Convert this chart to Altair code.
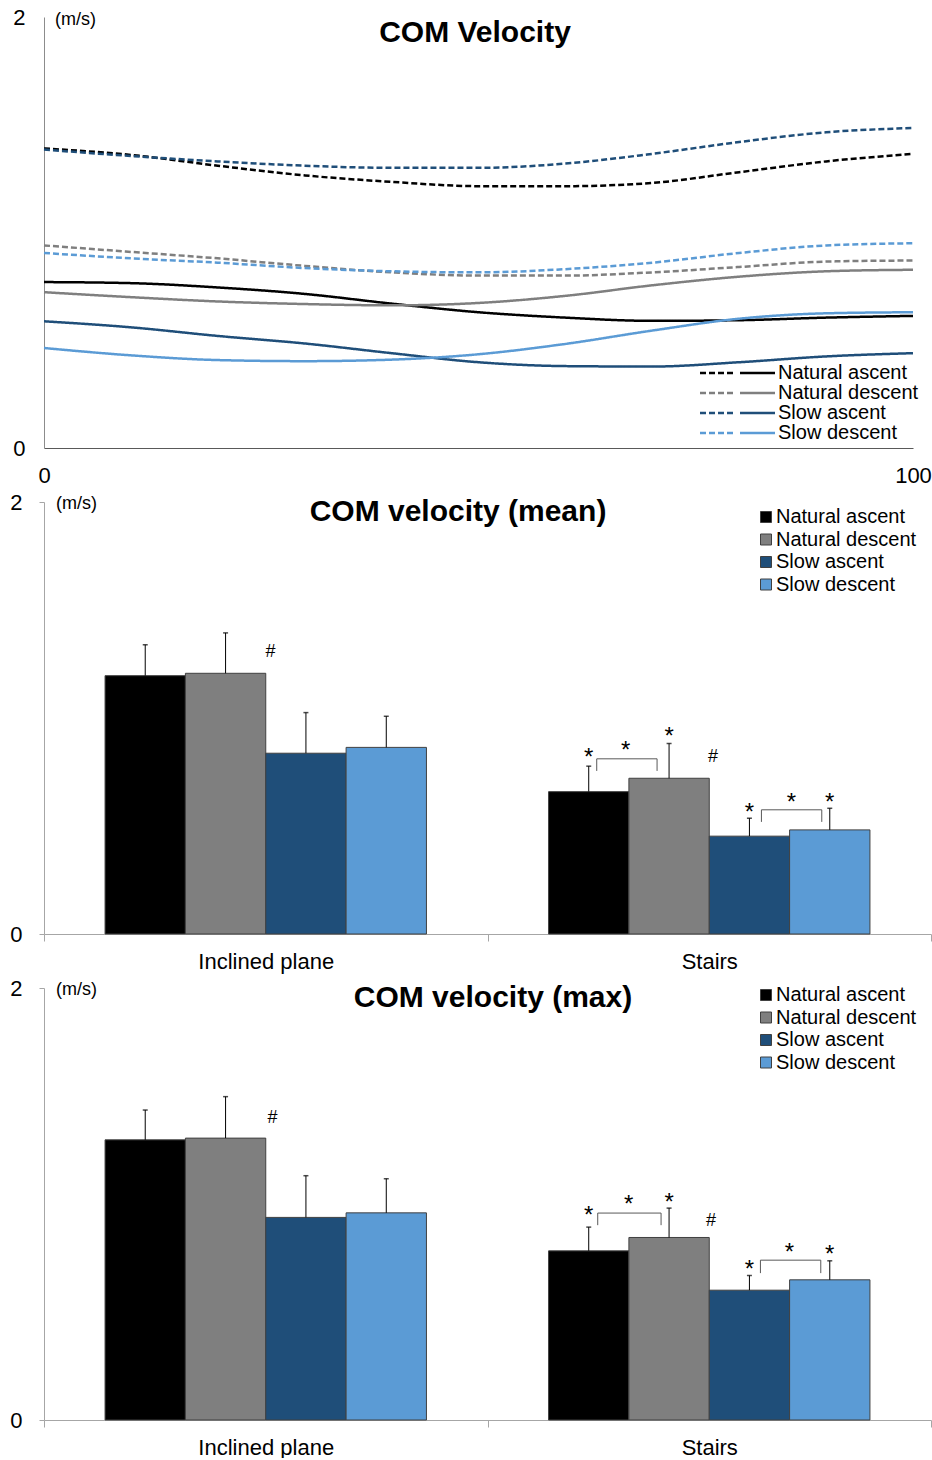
import altair as alt
import pandas as pd

FONT = "Liberation Sans"

# ---------------- data ----------------
series = ["Natural ascent", "Natural descent", "Slow ascent", "Slow descent"]
colors = ["#000000", "#7f7f7f", "#1f4e79", "#5b9bd5"]

# top panel: time-normalised COM velocity (% of cycle)
pct = [0, 10, 20, 30, 40, 50, 60, 70, 80, 90, 100]
# dashed curves
nat_asc_dashed = [1.39, 1.36, 1.31, 1.265, 1.235, 1.215, 1.215, 1.23, 1.28, 1.33, 1.365]
nat_desc_dashed = [0.94, 0.91, 0.88, 0.845, 0.815, 0.80, 0.80, 0.815, 0.84, 0.865, 0.87]
slow_asc_dashed = [1.385, 1.355, 1.33, 1.31, 1.30, 1.30, 1.32, 1.365, 1.42, 1.465, 1.485]
slow_desc_dashed = [0.905, 0.88, 0.86, 0.835, 0.82, 0.815, 0.83, 0.86, 0.905, 0.94, 0.95]
# solid curves
nat_asc_solid = [0.77, 0.765, 0.745, 0.715, 0.67, 0.63, 0.605, 0.59, 0.593, 0.605, 0.613]
nat_desc_solid = [0.723, 0.70, 0.68, 0.668, 0.662, 0.673, 0.706, 0.755, 0.795, 0.82, 0.827]
slow_asc_solid = [0.588, 0.56, 0.52, 0.485, 0.44, 0.398, 0.38, 0.378, 0.398, 0.425, 0.44]
slow_desc_solid = [0.464, 0.43, 0.408, 0.403, 0.41, 0.435, 0.483, 0.545, 0.60, 0.625, 0.63]

# bar panels
groups = ["Inclined plane", "Stairs"]
mean_incline = [1.196, 1.207, 0.837, 0.864]
mean_incline_sd = [0.143, 0.187, 0.188, 0.144]
mean_stairs = [0.659, 0.721, 0.453, 0.482]
mean_stairs_sd = [0.118, 0.161, 0.083, 0.100]
max_incline = [1.297, 1.305, 0.938, 0.959]
max_incline_sd = [0.138, 0.192, 0.193, 0.158]
max_stairs = [0.783, 0.845, 0.601, 0.649]
max_stairs_sd = [0.110, 0.136, 0.068, 0.088]

# annotations: group index, anchor bar index, pixel shift, level
mean_hash = {"g": [0, 1], "a": [1, 1], "s": [45, 44], "y": [1.311, 0.825]}
mean_star = {"g": [1, 1, 1, 1, 1, 1], "a": [0, 0, 1, 2, 2, 3], "s": [0, 37, 0, 0, 42, 0],
             "y": [0.848, 0.880, 0.945, 0.593, 0.640, 0.640]}
mean_brk = {"g": [1, 1], "la": [0, 2], "ls": [8, 12], "ra": [1, 3], "rs": [-12, -8],
            "top": [0.811, 0.575], "bot": [0.755, 0.519]}
max_hash = {"g": [0, 1], "a": [1, 1], "s": [47, 42], "y": [1.403, 0.925]}
max_star = {"g": [1, 1, 1, 1, 1, 1], "a": [0, 0, 1, 2, 2, 3], "s": [0, 40, 0, 0, 40, 0],
            "y": [0.976, 1.027, 1.036, 0.726, 0.804, 0.796]}
max_brk = {"g": [1, 1], "la": [0, 2], "ls": [9, 11], "ra": [1, 3], "rs": [-8, -9],
           "top": [0.958, 0.740], "bot": [0.902, 0.680]}

# ---------------- layout constants ----------------
W = 887
H = 432
STEP = W / 2
PAD_OUT = 0.76
AXIS_GRAY = "#a6a6a6"


def text_layer(txt, x, y, size, bold=False, align="center", baseline="middle"):
    return alt.Chart(pd.DataFrame({"t": [txt]})).mark_text(
        text=txt, fontSize=size, fontWeight="bold" if bold else "normal",
        align=align, baseline=baseline, font=FONT, color="black"
    ).encode(x=alt.value(x), y=alt.value(y))


# ---------------- top panel ----------------
rows = []
for name, style, vals in [
    (series[0], "dashed", nat_asc_dashed), (series[1], "dashed", nat_desc_dashed),
    (series[2], "dashed", slow_asc_dashed), (series[3], "dashed", slow_desc_dashed),
    (series[0], "solid", nat_asc_solid), (series[1], "solid", nat_desc_solid),
    (series[2], "solid", slow_asc_solid), (series[3], "solid", slow_desc_solid),
]:
    for p, v in zip(pct, vals):
        rows.append({"pct": p, "v": v, "series": name, "style": style})
df_top = pd.DataFrame(rows)

TW, TH = 869, 431
lines = alt.Chart(df_top).mark_line(strokeWidth=2.5, interpolate="monotone").encode(
    x=alt.X("pct:Q", scale=alt.Scale(domain=[0, 100], nice=False),
            axis=alt.Axis(values=[0, 100], title=None, grid=False, ticks=False, tickSize=0,
                          labelFontSize=22, labelFont=FONT, labelColor="black",
                          labelPadding=17, domainColor="#595959", labelFlush=False)),
    y=alt.Y("v:Q", scale=alt.Scale(domain=[0, 2], nice=False),
            axis=alt.Axis(values=[0, 1, 2], format="d", title=None, grid=False, ticks=False,
                          tickSize=0, labelFontSize=22, labelFont=FONT, labelColor="black",
                          labelPadding=19, domainColor="#8c8c8c")),
    color=alt.Color("series:N", scale=alt.Scale(domain=series, range=colors), legend=None),
    strokeDash=alt.StrokeDash("style:N", scale=alt.Scale(domain=["dashed", "solid"],
                                                          range=[[6, 3], [1, 0]]), legend=None),
    detail="style:N",
)

top_layers = [lines]
for i, name in enumerate(series):
    yy = 356 + i * 20
    leg = alt.Chart(pd.DataFrame({"label": [name]}))
    top_layers.append(leg.mark_rule(color=colors[i], strokeWidth=2.5, strokeDash=[6, 3]).encode(
        x=alt.value(656), x2=alt.value(690), y=alt.value(yy)))
    top_layers.append(leg.mark_rule(color=colors[i], strokeWidth=2.5).encode(
        x=alt.value(696), x2=alt.value(731), y=alt.value(yy)))
    top_layers.append(leg.mark_text(align="left", baseline="middle", fontSize=20, font=FONT,
                                    color="black").encode(x=alt.value(734), y=alt.value(yy),
                                                          text="label:N"))
top_layers.append(text_layer("COM Velocity", 431, 16, 30, bold=True))
top_layers.append(text_layer("(m/s)", 11, 3, 18, align="left"))
top = alt.layer(*top_layers).properties(width=TW, height=TH)


# ---------------- bar panels ----------------
def center_u(g, a, shift):
    return g + (PAD_OUT + a + 0.5) / (4 + 2 * PAD_OUT) + shift / STEP


def bar_panel(title, title_x, title_y, inc, inc_sd, sta, sta_sd, hsh, star, brk, leg_y):
    recs = []
    for g, vals, sds in [(groups[0], inc, inc_sd), (groups[1], sta, sta_sd)]:
        for s, v, sd in zip(series, vals, sds):
            recs.append({"group": g, "series": s, "value": v, "hi": v + sd})
    df = pd.DataFrame(recs)
    base = alt.Chart(df)
    xenc = alt.X("group:N", sort=groups,
                 scale=alt.Scale(domain=groups, paddingInner=0, paddingOuter=0),
                 axis=alt.Axis(title=None, labelAngle=0, labelFontSize=22, labelFont=FONT,
                               labelColor="black", tickBand="extent", tickSize=7,
                               tickColor=AXIS_GRAY, domainColor=AXIS_GRAY, labelPadding=10,
                               grid=False))
    xo = alt.XOffset("series:N", sort=series,
                     scale=alt.Scale(domain=series, paddingInner=0, paddingOuter=PAD_OUT))
    yenc = alt.Y("value:Q", scale=alt.Scale(domain=[0, 2], nice=False),
                 axis=alt.Axis(values=[0, 1, 2], format="d", title=None, grid=False,
                               tickSize=5, tickColor=AXIS_GRAY, domainColor=AXIS_GRAY,
                               labelFontSize=22, labelFont=FONT, labelColor="black",
                               labelPadding=17))
    bars = base.mark_bar(stroke="#404040", strokeWidth=1).encode(
        x=xenc, xOffset=xo, y=yenc,
        color=alt.Color("series:N", sort=series, scale=alt.Scale(domain=series, range=colors),
                        legend=alt.Legend(orient="none", legendX=712, legendY=leg_y, title=None,
                                          symbolType="square", symbolSize=121,
                                          symbolStrokeColor="#404040", symbolStrokeWidth=1,
                                          labelFontSize=20, labelFont=FONT, labelColor="black",
                                          rowPadding=2.5, labelOffset=0, padding=0)),
    )
    err = base.mark_rule(color="black", strokeWidth=1).encode(
        x=xenc, xOffset=xo, y="value:Q", y2="hi:Q")
    caps = base.mark_tick(color="black", size=5, thickness=1.5).encode(
        x=xenc, xOffset=xo, y="hi:Q")
    bar_layer = alt.layer(bars, err, caps)

    ux = alt.Scale(domain=[0, 2], nice=False, zero=False)
    hdf = pd.DataFrame({"u": [center_u(g, a, s) for g, a, s in zip(hsh["g"], hsh["a"], hsh["s"])],
                        "y": hsh["y"], "t": ["#"] * len(hsh["y"])})
    sdf = pd.DataFrame({"u": [center_u(g, a, s) for g, a, s in zip(star["g"], star["a"], star["s"])],
                        "y": star["y"], "t": ["*"] * len(star["y"])})
    bdf = pd.DataFrame({
        "ul": [center_u(g, a, s) for g, a, s in zip(brk["g"], brk["la"], brk["ls"])],
        "ur": [center_u(g, a, s) for g, a, s in zip(brk["g"], brk["ra"], brk["rs"])],
        "top": brk["top"], "bot": brk["bot"]})
    hash_t = alt.Chart(hdf).mark_text(fontSize=18, font=FONT, color="black",
                                      baseline="alphabetic", dy=6).encode(
        x=alt.X("u:Q", scale=ux, axis=None), y=alt.Y("y:Q"), text="t:N")
    star_t = alt.Chart(sdf).mark_text(fontSize=24, font=FONT, color="black",
                                      baseline="alphabetic", dy=14).encode(
        x=alt.X("u:Q", scale=ux, axis=None), y=alt.Y("y:Q"), text="t:N")
    bc = alt.Chart(bdf)
    b_h = bc.mark_rule(color="#595959", strokeWidth=1).encode(
        x=alt.X("ul:Q", scale=ux, axis=None), x2="ur:Q", y="top:Q")
    b_l = bc.mark_rule(color="#595959", strokeWidth=1).encode(
        x=alt.X("ul:Q", scale=ux, axis=None), y="top:Q", y2="bot:Q")
    b_r = bc.mark_rule(color="#595959", strokeWidth=1).encode(
        x=alt.X("ur:Q", scale=ux, axis=None), y="top:Q", y2="bot:Q")
    ann_layer = alt.layer(hash_t, star_t, b_h, b_l, b_r)

    texts = alt.layer(text_layer(title, title_x, title_y, 30, bold=True),
                      text_layer("(m/s)", 12, 2, 18, align="left"))
    return alt.layer(bar_layer, ann_layer, texts).resolve_scale(x="independent").properties(
        width=W, height=H)


mid = bar_panel("COM velocity (mean)", 414, 10, mean_incline, mean_incline_sd, mean_stairs,
                mean_stairs_sd, mean_hash, mean_star, mean_brk, 5)
bot = bar_panel("COM velocity (max)", 449, 10, max_incline, max_incline_sd, max_stairs,
                max_stairs_sd, max_hash, max_star, max_brk, -3)

chart = alt.vconcat(
    top, mid, bot, spacing=54, bounds="flush",
    padding={"left": 9, "top": 6, "right": 0, "bottom": 0},
).resolve_scale(color="independent").resolve_legend(color="independent").configure(
    font=FONT, background="white").configure_view(stroke=None)

chart.save("out.html", embed_options={"renderer": "svg", "actions": False})
